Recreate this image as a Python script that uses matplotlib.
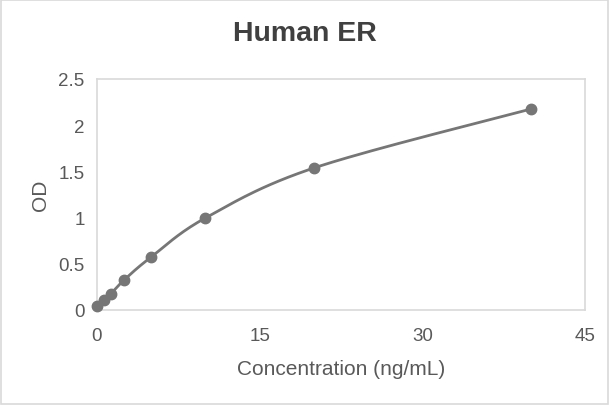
import numpy as np
import matplotlib
matplotlib.use("Agg")
import matplotlib.pyplot as plt
from matplotlib.patches import Rectangle

conc = [0, 0.625, 1.25, 2.5, 5, 10, 20, 40]
od = [0.043, 0.108, 0.173, 0.325, 0.574, 0.996, 1.537, 2.175]
x_ticks = [0, 15, 30, 45]
y_ticks = [0, 0.5, 1, 1.5, 2, 2.5]
y_labels = ["0", "0.5", "1", "1.5", "2", "2.5"]

plt.rcParams["font.family"] = ["Liberation Sans", "DejaVu Sans"]


def smooth(xs, ys, n=30, tension=0.5):
    # Catmull-Rom style smoothing between data points (like Excel smoothed line)
    xs = np.asarray(xs, float)
    ys = np.asarray(ys, float)
    px = np.concatenate([[xs[0]], xs, [xs[-1]]])
    py = np.concatenate([[ys[0]], ys, [ys[-1]]])
    outx, outy = [], []
    t = np.linspace(0, 1, n)
    for i in range(1, len(px) - 2):
        p0, p1, p2, p3 = (np.array([px[j], py[j]]) for j in range(i - 1, i + 3))
        m1 = tension * (p2 - p0)
        m2 = tension * (p3 - p1)
        h00 = 2 * t**3 - 3 * t**2 + 1
        h10 = t**3 - 2 * t**2 + t
        h01 = -2 * t**3 + 3 * t**2
        h11 = t**3 - t**2
        pts = (np.outer(h00, p1) + np.outer(h10, m1) + np.outer(h01, p2) + np.outer(h11, m2))
        outx.extend(pts[:, 0])
        outy.extend(pts[:, 1])
    return outx, outy


fig = plt.figure(figsize=(6.09, 4.06), dpi=100)
fig.patches.append(Rectangle((0.002, 0.002), 0.996, 0.995, transform=fig.transFigure,
                             fill=False, edgecolor="#d9d9d9", linewidth=1.2))
ax = fig.add_axes([97 / 609, 1 - 311 / 406, 488 / 609, 231 / 406])

sx, sy = smooth(conc, od)
ax.plot(sx, sy, color="#767676", linewidth=2, zorder=2, clip_on=False)
ax.plot(conc, od, "o", color="#767676", markersize=7.5, zorder=3, clip_on=False)

ax.set_xlim(0, 45)
ax.set_ylim(0, 2.5)
ax.set_xticks(x_ticks)
ax.set_yticks(y_ticks)
ax.set_yticklabels(y_labels)
ax.tick_params(length=0, labelsize=13.5, colors="#595959")
ax.tick_params(axis="x", pad=12)
ax.tick_params(axis="y", pad=9)
for s in ax.spines.values():
    s.set_color("#d9d9d9")
    s.set_linewidth(1.2)

ax.set_xlabel("Concentration (ng/mL)", fontsize=15, color="#595959", labelpad=11)
ax.set_ylabel("OD", fontsize=15, color="#595959", labelpad=6)
fig.text(0.5, 1 - 34 / 406, "Human ER", ha="center", va="center",
         fontsize=20.5, fontweight="bold", color="#404040")

fig.savefig("out.png", dpi=100)
